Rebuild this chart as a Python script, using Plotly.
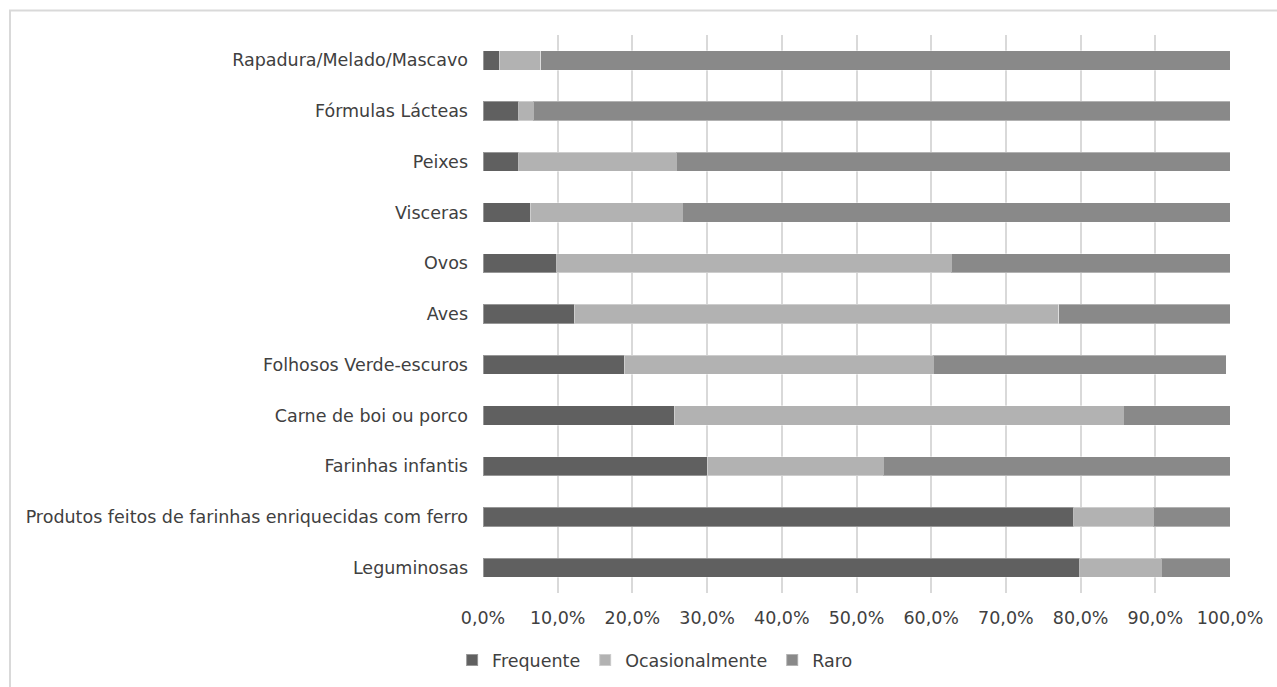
import plotly.graph_objects as go

# Food groups, listed bottom to top as they appear on the y axis
categories = [
    "Leguminosas",
    "Produtos feitos de farinhas enriquecidas com ferro",
    "Farinhas infantis",
    "Carne de boi ou porco",
    "Folhosos Verde-escuros",
    "Aves",
    "Ovos",
    "Visceras",
    "Peixes",
    "Fórmulas Lácteas",
    "Rapadura/Melado/Mascavo",
]

# Share of consumption frequency (%)
frequente = [79.9, 79.1, 30.0, 25.6, 18.9, 12.2, 9.9, 6.3, 4.8, 4.8, 2.2]
ocasionalmente = [10.9, 10.6, 23.6, 60.1, 41.4, 64.9, 52.8, 20.4, 21.1, 1.9, 5.5]
raro = [9.2, 10.3, 46.4, 14.3, 39.2, 22.9, 37.3, 73.3, 74.1, 93.3, 92.3]

x_ticks = [0, 10, 20, 30, 40, 50, 60, 70, 80, 90, 100]
x_tick_labels = [f"{v:.1f}%".replace(".", ",") for v in x_ticks]

series = [
    ("Frequente", frequente, "#606060"),
    ("Ocasionalmente", ocasionalmente, "#b2b2b2"),
    ("Raro", raro, "#898989"),
]

fig = go.Figure()
for name, values, color in series:
    fig.add_trace(go.Bar(
        y=categories,
        x=values,
        name=name,
        orientation="h",
        marker=dict(color=color, line=dict(color="rgba(255,255,255,0.35)", width=1)),
    ))

font_family = "DejaVu Sans, Verdana, sans-serif"
font_size = 17.5

fig.update_layout(
    barmode="stack",
    bargap=0.62,
    width=1277,
    height=687,
    margin=dict(l=483, r=47, t=35, b=94),
    paper_bgcolor="white",
    plot_bgcolor="white",
    font=dict(family=font_family, size=font_size, color="#404040"),
    showlegend=True,
    legend=dict(
        orientation="h",
        xref="container",
        yref="container",
        x=0.513,
        xanchor="center",
        y=0.039,
        yanchor="middle",
        font=dict(size=font_size, color="#404040"),
        itemwidth=30,
        traceorder="normal",
        itemsizing="constant",
    ),
    xaxis=dict(
        range=[0, 100],
        tickvals=x_ticks,
        ticktext=x_tick_labels,
        showgrid=True,
        gridcolor="#d9d9d9",
        gridwidth=1.5,
        zeroline=False,
        showline=False,
        ticks="",
        ticklabelstandoff=12,
        fixedrange=True,
    ),
    yaxis=dict(
        showgrid=False,
        zeroline=False,
        showline=False,
        ticks="",
        ticklabelstandoff=14,
        fixedrange=True,
    ),
    shapes=[
        dict(
            type="rect",
            xref="paper",
            yref="paper",
            x0=(10 - 483) / 747,
            x1=(1290 - 483) / 747,
            y0=-0.3,
            y1=1 + (35.5 - 11) / 558,
            line=dict(color="#d9d9d9", width=2),
            fillcolor="rgba(0,0,0,0)",
            layer="below",
        )
    ],
)

fig.write_html("out.html")
